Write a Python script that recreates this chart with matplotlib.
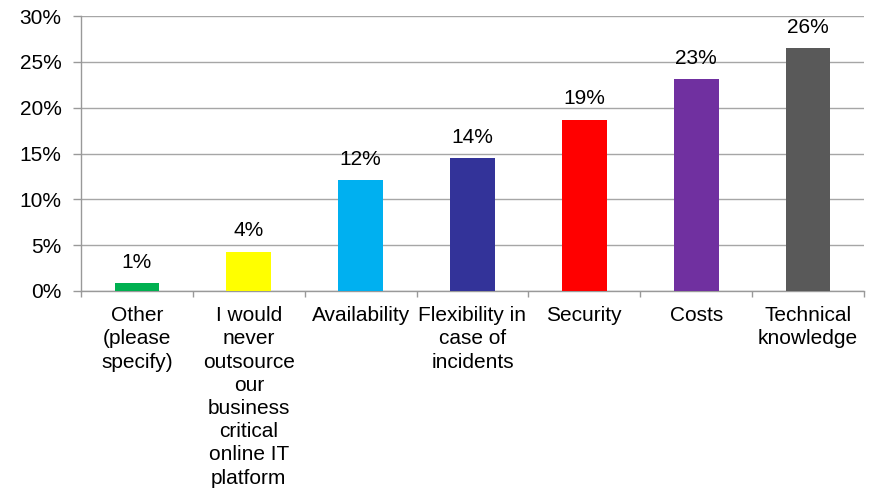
import numpy as np
import matplotlib.pyplot as plt
from matplotlib.ticker import FuncFormatter, FixedLocator

plt.rcParams['font.family'] = ['Liberation Sans', 'DejaVu Sans']

categories = [
    "Other\n(please\nspecify)",
    "I would\nnever\noutsource\nour\nbusiness\ncritical\nonline IT\nplatform",
    "Availability",
    "Flexibility in\ncase of\nincidents",
    "Security",
    "Costs",
    "Technical\nknowledge",
]
values = [0.9, 4.3, 12.1, 14.5, 18.7, 23.1, 26.5]
value_labels = ["1%", "4%", "12%", "14%", "19%", "23%", "26%"]
colors = ["#00B050", "#FFFF00", "#00B0F0", "#333399", "#FF0000", "#7030A0", "#595959"]

fig = plt.figure(figsize=(8.7, 4.91), dpi=100)
ax = fig.add_axes([81 / 870, 1 - 291 / 491, 783 / 870, 275 / 491])

x = np.arange(len(categories))
bars = ax.bar(x, values, width=0.4, color=colors, zorder=3)

# value labels above bars
for bar, lab in zip(bars, value_labels):
    ax.annotate(lab, (bar.get_x() + bar.get_width() / 2, bar.get_height()),
                xytext=(0, 8), textcoords='offset points',
                ha='center', va='bottom', fontsize=15, color='black')

ax.set_xlim(-0.5, len(categories) - 0.5)
ax.set_ylim(0, 30)
ax.set_yticks(np.arange(0, 31, 5))
ax.yaxis.set_major_formatter(FuncFormatter(lambda v, p: f"{int(v)}%"))

ax.set_xticks(x)
ax.set_xticklabels(categories, fontsize=15, linespacing=1.28)
ax.xaxis.set_minor_locator(FixedLocator(np.arange(-0.5, len(categories), 1)))
ax.tick_params(axis='x', which='major', length=0, pad=11)
ax.tick_params(axis='x', which='minor', length=4, color='#999999', width=1)
ax.tick_params(axis='y', length=6, color='#999999', width=1, labelsize=15, pad=8)

ax.grid(axis='y', color='#A6A6A6', linewidth=1, zorder=0)
for side in ['top', 'right']:
    ax.spines[side].set_visible(False)
for side in ['left', 'bottom']:
    ax.spines[side].set_color('#999999')
    ax.spines[side].set_linewidth(1)

fig.savefig('out.png', dpi=100)
